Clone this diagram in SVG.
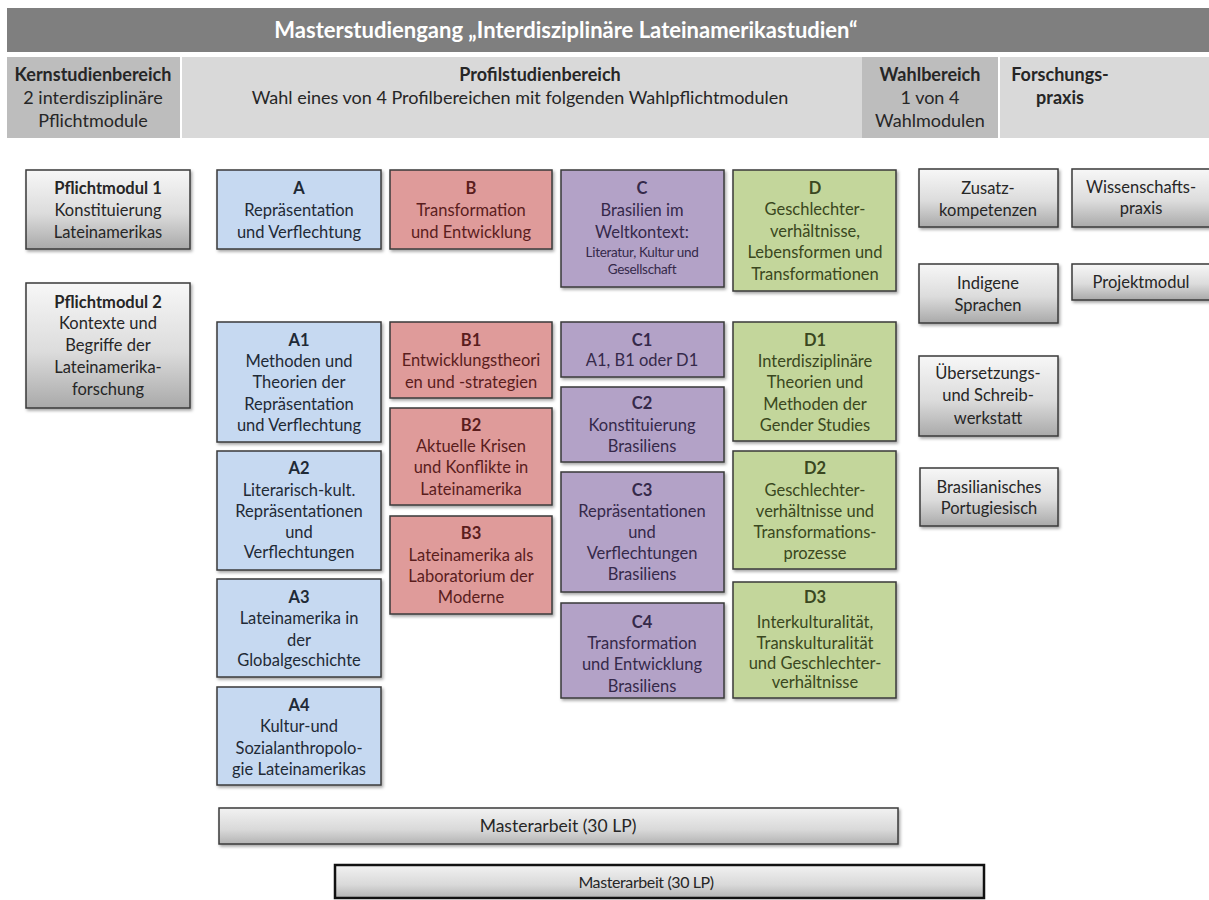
<svg xmlns="http://www.w3.org/2000/svg" width="1209" height="900" viewBox="0 0 1209 900">
<defs>
  <linearGradient id="gGray" x1="0" y1="0" x2="0" y2="1">
    <stop offset="0" stop-color="#f7f7f7"/>
    <stop offset="0.55" stop-color="#dcdcdc"/>
    <stop offset="1" stop-color="#a9a9a9"/>
  </linearGradient>
  <linearGradient id="gBar" x1="0" y1="0" x2="0" y2="1">
    <stop offset="0" stop-color="#f2f2f2"/>
    <stop offset="0.6" stop-color="#d9d9d9"/>
    <stop offset="1" stop-color="#b3b3b3"/>
  </linearGradient>
  <filter id="sh" x="-10%" y="-10%" width="125%" height="130%">
    <feDropShadow dx="1.5" dy="2" stdDeviation="1.5" flood-color="#000" flood-opacity="0.35"/>
  </filter>
</defs>
<style>
  text { font-family: Lato, "Open Sans", "Liberation Sans", sans-serif; font-size: 16.5px; text-anchor: middle; }
  .b { font-weight: bold; }
  .box { stroke: #3a3a3a; stroke-width: 1.5; filter: url(#sh); }
  .gray { fill: url(#gGray); }
  .blue { fill: #c6d9f1; }
  .red { fill: #df9b9a; }
  .purple { fill: #b3a2c7; }
  .green { fill: #c3d69b; }
  .tg { fill: #262626; }
  .tb { fill: #1f2a36; }
  .tr { fill: #5a1d1d; }
  .tp { fill: #35294a; }
  .tn { fill: #3a4720; }
  .hd { fill: #262626; font-size: 18px; }
</style>

<g id="header">
  <rect x="7" y="8" width="1202" height="44" fill="#7f7f7f"/>
  <text x="566" y="38" class="b" style="font-size:22px" fill="#ffffff">Masterstudiengang „Interdisziplinäre Lateinamerikastudien“</text>
</g>

<g id="kern-head">
  <rect x="7" y="57" width="173" height="81" fill="#bdbdbd"/>
  <text class="hd b" x="93" y="81">Kernstudienbereich</text>
  <text class="hd" x="93" y="104">2 interdisziplinäre</text>
  <text class="hd" x="93" y="127">Pflichtmodule</text>
</g>
<g id="profil-head">
  <rect x="182" y="57" width="680" height="81" fill="#d9d9d9"/>
  <text class="hd b" x="540" y="81">Profilstudienbereich</text>
  <text class="hd" x="520" y="104">Wahl eines von 4 Profilbereichen mit folgenden Wahlpflichtmodulen</text>
</g>
<g id="wahl-head">
  <rect x="862" y="57" width="136" height="81" fill="#bdbdbd"/>
  <text class="hd b" x="930" y="81">Wahlbereich</text>
  <text class="hd" x="930" y="104">1 von 4</text>
  <text class="hd" x="930" y="127">Wahlmodulen</text>
</g>
<g id="forsch-head">
  <rect x="1000" y="57" width="209" height="81" fill="#d9d9d9"/>
  <text class="hd b" x="1060" y="81">Forschungs-</text>
  <text class="hd b" x="1060" y="104">praxis</text>
</g>

<!-- Kernstudienbereich -->
<g id="pm1">
  <rect class="box gray" x="26" y="170" width="164" height="79"/>
  <text class="tg"><tspan class="b" x="108" y="194">Pflichtmodul 1</tspan><tspan x="108" y="216">Konstituierung</tspan><tspan x="108" y="238">Lateinamerikas</tspan></text>
</g>
<g id="pm2">
  <rect class="box gray" x="26" y="283" width="164" height="125"/>
  <text class="tg"><tspan class="b" x="108" y="308">Pflichtmodul 2</tspan><tspan x="108" y="329">Kontexte und</tspan><tspan x="108" y="351">Begriffe der</tspan><tspan x="108" y="373">Lateinamerika-</tspan><tspan x="108" y="395">forschung</tspan></text>
</g>

<!-- A column -->
<g id="A">
  <rect class="box blue" x="217" y="170" width="164" height="79"/>
  <text class="tb"><tspan class="b" x="299" y="194">A</tspan><tspan x="299" y="216">Repräsentation</tspan><tspan x="299" y="238">und Verflechtung</tspan></text>
</g>
<g id="A1">
  <rect class="box blue" x="217" y="322" width="164" height="120"/>
  <text class="tb"><tspan class="b" x="299" y="346">A1</tspan><tspan x="299" y="367">Methoden und</tspan><tspan x="299" y="388">Theorien der</tspan><tspan x="299" y="410">Repräsentation</tspan><tspan x="299" y="431">und Verflechtung</tspan></text>
</g>
<g id="A2">
  <rect class="box blue" x="217" y="451" width="164" height="119"/>
  <text class="tb"><tspan class="b" x="299" y="474">A2</tspan><tspan x="299" y="496">Literarisch-kult.</tspan><tspan x="299" y="517">Repräsentationen</tspan><tspan x="299" y="538">und</tspan><tspan x="299" y="558">Verflechtungen</tspan></text>
</g>
<g id="A3">
  <rect class="box blue" x="217" y="579" width="164" height="98"/>
  <text class="tb"><tspan class="b" x="299" y="603">A3</tspan><tspan x="299" y="624">Lateinamerika in</tspan><tspan x="299" y="646">der</tspan><tspan x="299" y="666">Globalgeschichte</tspan></text>
</g>
<g id="A4">
  <rect class="box blue" x="217" y="687" width="164" height="98"/>
  <text class="tb"><tspan class="b" x="299" y="711">A4</tspan><tspan x="299" y="732">Kultur-und</tspan><tspan x="299" y="754">Sozialanthropolo-</tspan><tspan x="299" y="775">gie Lateinamerikas</tspan></text>
</g>

<!-- B column -->
<g id="B">
  <rect class="box red" x="390" y="170" width="162" height="79"/>
  <text class="tr"><tspan class="b" x="471" y="194">B</tspan><tspan x="471" y="216">Transformation</tspan><tspan x="471" y="238">und Entwicklung</tspan></text>
</g>
<g id="B1">
  <rect class="box red" x="390" y="322" width="162" height="76"/>
  <text class="tr"><tspan class="b" x="471" y="346">B1</tspan><tspan x="471" y="366">Entwicklungstheori</tspan><tspan x="471" y="388">en und  -strategien</tspan></text>
</g>
<g id="B2">
  <rect class="box red" x="390" y="408" width="162" height="97"/>
  <text class="tr"><tspan class="b" x="471" y="431">B2</tspan><tspan x="471" y="452">Aktuelle Krisen</tspan><tspan x="471" y="473">und Konflikte  in</tspan><tspan x="471" y="495">Lateinamerika</tspan></text>
</g>
<g id="B3">
  <rect class="box red" x="390" y="516" width="162" height="98"/>
  <text class="tr"><tspan class="b" x="471" y="539">B3</tspan><tspan x="471" y="561">Lateinamerika als</tspan><tspan x="471" y="582">Laboratorium der</tspan><tspan x="471" y="603">Moderne</tspan></text>
</g>

<!-- C column -->
<g id="C">
  <rect class="box purple" x="561" y="170" width="163" height="117"/>
  <text class="tp"><tspan class="b" x="642" y="194">C</tspan><tspan x="642" y="216">Brasilien im</tspan><tspan x="642" y="238">Weltkontext:</tspan><tspan x="642" y="257" style="font-size:13.5px;letter-spacing:-0.3px">Literatur, Kultur und</tspan><tspan x="642" y="274" style="font-size:13.5px;letter-spacing:-0.3px">Gesellschaft</tspan></text>
</g>
<g id="C1">
  <rect class="box purple" x="561" y="322" width="163" height="55"/>
  <text class="tp"><tspan class="b" x="642" y="346">C1</tspan><tspan x="642" y="366">A1, B1 oder D1</tspan></text>
</g>
<g id="C2">
  <rect class="box purple" x="561" y="387" width="163" height="75"/>
  <text class="tp"><tspan class="b" x="642" y="409">C2</tspan><tspan x="642" y="431">Konstituierung</tspan><tspan x="642" y="452">Brasiliens</tspan></text>
</g>
<g id="C3">
  <rect class="box purple" x="561" y="472" width="163" height="120"/>
  <text class="tp"><tspan class="b" x="642" y="496">C3</tspan><tspan x="642" y="517">Repräsentationen</tspan><tspan x="642" y="538">und</tspan><tspan x="642" y="559">Verflechtungen</tspan><tspan x="642" y="580">Brasiliens</tspan></text>
</g>
<g id="C4">
  <rect class="box purple" x="561" y="603" width="163" height="95"/>
  <text class="tp"><tspan class="b" x="642" y="628">C4</tspan><tspan x="642" y="649">Transformation</tspan><tspan x="642" y="670">und Entwicklung</tspan><tspan x="642" y="692">Brasiliens</tspan></text>
</g>

<!-- D column -->
<g id="D">
  <rect class="box green" x="733" y="170" width="163" height="121"/>
  <text class="tn"><tspan class="b" x="815" y="194">D</tspan><tspan x="815" y="215">Geschlechter-</tspan><tspan x="815" y="237">verhältnisse,</tspan><tspan x="815" y="258">Lebensformen  und</tspan><tspan x="815" y="280">Transformationen</tspan></text>
</g>
<g id="D1">
  <rect class="box green" x="733" y="322" width="163" height="119"/>
  <text class="tn"><tspan class="b" x="815" y="346">D1</tspan><tspan x="815" y="367">Interdisziplinäre</tspan><tspan x="815" y="388">Theorien und</tspan><tspan x="815" y="410">Methoden der</tspan><tspan x="815" y="431">Gender Studies</tspan></text>
</g>
<g id="D2">
  <rect class="box green" x="733" y="451" width="163" height="118"/>
  <text class="tn"><tspan class="b" x="815" y="474">D2</tspan><tspan x="815" y="496">Geschlechter-</tspan><tspan x="815" y="517">verhältnisse und</tspan><tspan x="815" y="538">Transformations-</tspan><tspan x="815" y="559">prozesse</tspan></text>
</g>
<g id="D3">
  <rect class="box green" x="733" y="582" width="163" height="116"/>
  <text class="tn"><tspan class="b" x="815" y="603">D3</tspan><tspan x="815" y="628">Interkulturalität,</tspan><tspan x="815" y="649">Transkulturalität</tspan><tspan x="815" y="669">und Geschlechter-</tspan><tspan x="815" y="688">verhältnisse</tspan></text>
</g>

<!-- Wahlbereich -->
<g id="zusatz">
  <rect class="box gray" x="919" y="169" width="139" height="58"/>
  <text class="tg"><tspan x="988" y="194">Zusatz-</tspan><tspan x="988" y="216">kompetenzen</tspan></text>
</g>
<g id="indigene">
  <rect class="box gray" x="919" y="264" width="139" height="59"/>
  <text class="tg"><tspan x="988" y="289">Indigene</tspan><tspan x="988" y="311">Sprachen</tspan></text>
</g>
<g id="uebersetzung">
  <rect class="box gray" x="919" y="356" width="139" height="80"/>
  <text class="tg"><tspan x="988" y="379">Übersetzungs-</tspan><tspan x="988" y="401">und Schreib-</tspan><tspan x="988" y="424">werkstatt</tspan></text>
</g>
<g id="portugiesisch">
  <rect class="box gray" x="920" y="468" width="138" height="58"/>
  <text class="tg"><tspan x="989" y="493">Brasilianisches</tspan><tspan x="989" y="514">Portugiesisch</tspan></text>
</g>

<!-- Forschungspraxis -->
<g id="wissenschaft">
  <rect class="box gray" x="1072" y="169" width="142" height="58"/>
  <text class="tg"><tspan x="1141" y="193">Wissenschafts-</tspan><tspan x="1141" y="214">praxis</tspan></text>
</g>
<g id="projekt">
  <rect class="box gray" x="1072" y="264" width="142" height="36"/>
  <text class="tg"><tspan x="1141" y="288">Projektmodul</tspan></text>
</g>

<!-- Masterarbeit -->
<g id="master1">
  <rect class="box" fill="url(#gBar)" x="219" y="808" width="679" height="36"/>
  <text class="tg" x="558" y="832" style="font-size:17.5px">Masterarbeit (30 LP)</text>
</g>
<g id="master2">
  <rect fill="url(#gBar)" stroke="#111" stroke-width="2.5" x="335" y="865" width="649" height="33"/>
  <text class="tg" x="646" y="888" style="font-size:16px;letter-spacing:-0.4px">Masterarbeit (30 LP)</text>
</g>

<g id="connectors"></g>
</svg>
